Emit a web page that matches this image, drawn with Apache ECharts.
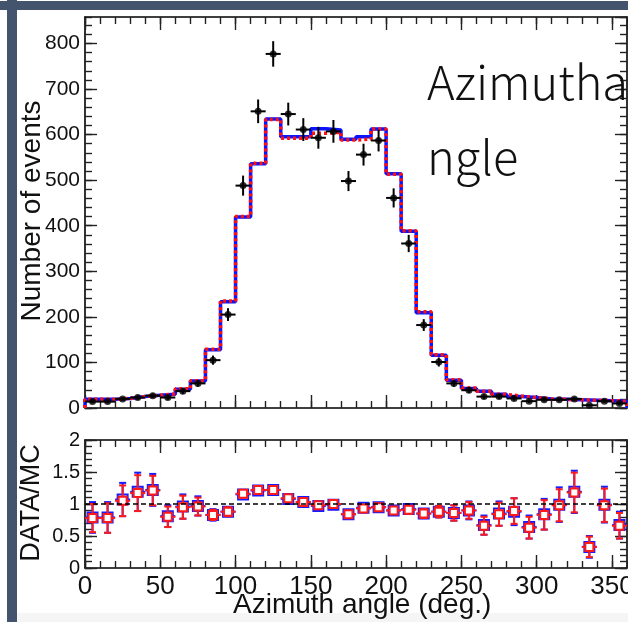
<!DOCTYPE html>
<html>
<head>
<meta charset="utf-8">
<script src="https://cdn.jsdelivr.net/npm/echarts@6/dist/echarts.min.js"></script>
<style>
  html, body { margin: 0; padding: 0; background: #fff; }
  #c { width: 628px; height: 622px; }
</style>
</head>
<body>
<div id="c"></div>
<script>
// Azimuth-angle distribution: data vs. two MC predictions, with DATA/MC ratio panel.
const binCenters = [5, 15, 25, 35, 45, 55, 65, 75, 85, 95, 105, 115, 125, 135, 145, 155, 165, 175,
  185, 195, 205, 215, 225, 235, 245, 255, 265, 275, 285, 295, 305, 315, 325, 335, 345, 355];
const binHalf = 5;

// MC histograms (events per 10 deg bin)
const mcBlue = [19, 19, 21, 25, 28, 30, 41, 59, 128, 233, 419, 536, 634, 595, 595, 613, 610, 590,
  595, 612, 514, 388, 209, 116, 61, 43, 37, 30, 25, 23, 20, 19, 18, 17, 16, 15];
const mcRed = [19, 19, 21, 25, 28, 31, 42, 60, 129, 235, 420, 537, 633, 592, 592, 603, 605, 588,
  590, 612, 513, 389, 211, 117, 62, 44, 37, 30, 26, 23, 20, 19, 18, 17, 16, 15];

// Measured events and their uncertainties
const dataVals = [14, 14, 20, 23, 27, 23, 37, 54, 105, 205, 488, 651, 777, 645, 611, 593, 607, 498,
  556, 587, 461, 361, 182, 101, 54, 39, 25, 25, 21, 15, 18, 18, 20, 6, 15, 10];
const dataErr = [4, 4, 4, 5, 5, 5, 6, 7, 10, 14, 22, 26, 28, 25, 25, 24, 25, 22,
  24, 24, 21, 19, 13, 10, 7, 6, 5, 5, 5, 4, 4, 4, 4, 2, 4, 3];

// DATA/MC ratios
const ratioBlue = [0.79, 0.79, 1.07, 1.19, 1.22, 0.81, 0.96, 0.97, 0.83, 0.88, 1.15, 1.21, 1.22, 1.08,
  1.03, 0.97, 0.99, 0.84, 0.94, 0.95, 0.90, 0.92, 0.85, 0.88, 0.86, 0.90, 0.67, 0.85, 0.88, 0.64,
  0.84, 0.99, 1.19, 0.33, 0.99, 0.67];
const ratioRed = [0.78, 0.78, 1.05, 1.17, 1.21, 0.80, 0.95, 0.96, 0.83, 0.88, 1.16, 1.22, 1.22, 1.09,
  1.03, 0.98, 1.00, 0.84, 0.93, 0.95, 0.90, 0.91, 0.85, 0.88, 0.86, 0.90, 0.66, 0.84, 0.89, 0.63,
  0.83, 0.98, 1.18, 0.33, 0.98, 0.66];
const ratioErrBlue = [0.24, 0.24, 0.26, 0.30, 0.25, 0.17, 0.19, 0.15, 0.09, 0.07, 0.06, 0.05, 0.05, 0.05,
  0.05, 0.05, 0.05, 0.05, 0.05, 0.05, 0.05, 0.06, 0.07, 0.09, 0.12, 0.14, 0.15, 0.19, 0.21, 0.18,
  0.24, 0.27, 0.33, 0.17, 0.28, 0.21];
const ratioErrRed = [0.22, 0.23, 0.24, 0.28, 0.23, 0.16, 0.18, 0.14, 0.08, 0.07, 0.06, 0.05, 0.05, 0.05,
  0.05, 0.05, 0.05, 0.05, 0.05, 0.05, 0.05, 0.06, 0.07, 0.09, 0.12, 0.13, 0.14, 0.18, 0.20, 0.17,
  0.23, 0.25, 0.31, 0.16, 0.26, 0.20];

const xTicksMajor = 50, xTicksMinor = 10;
const yTopMax = 858, yTopMajor = 100, yTopMinor = 20;
const yRatioMax = 2, yRatioMajor = 0.5, yRatioMinor = 0.1;

const FONT = 'Liberation Sans, Arial, Helvetica, sans-serif';
const INK = '#000';

// Step outline of a histogram as a polyline over the bin edges
function stepPath(vals) {
  const pts = [[binCenters[0] - binHalf, 0]];
  vals.forEach((v, i) => {
    pts.push([binCenters[i] - binHalf, v], [binCenters[i] + binHalf, v]);
  });
  pts.push([binCenters[binCenters.length - 1] + binHalf, 0]);
  return pts;
}

function axisBase(gridIndex, extra) {
  return Object.assign({
    gridIndex: gridIndex,
    type: 'value',
    splitLine: { show: false },
    axisLine: { show: false, onZero: false, lineStyle: { color: INK, width: 1.6 } },
    axisTick: { show: true, inside: true, lineStyle: { color: '#222', width: 1.4 } },
    axisLabel: { show: false },
    minorTick: { show: false }
  }, extra);
}

function xAxesFor(gridIndex, withLabels) {
  const label = withLabels
    ? { show: true, showMaxLabel: false, fontSize: 26, fontFamily: FONT, color: '#111', margin: 6 }
    : { show: false };
  return [
    axisBase(gridIndex, { position: 'bottom', min: 0, max: 360, interval: xTicksMajor,
      axisLine: { show: true, onZero: false, lineStyle: { color: INK, width: 1.6 } },
      axisTick: { show: true, inside: true, length: 13, lineStyle: { color: '#222', width: 1.4 } },
      axisLabel: label }),
    axisBase(gridIndex, { position: 'bottom', min: 0, max: 360, interval: xTicksMinor,
      axisTick: { show: true, inside: true, length: 7, lineStyle: { color: '#222', width: 1.4 } } }),
    axisBase(gridIndex, { position: 'top', min: 0, max: 360, interval: xTicksMajor,
      axisLine: { show: true, onZero: false, lineStyle: { color: INK, width: 1.6 } },
      axisTick: { show: true, inside: true, length: 13, lineStyle: { color: '#222', width: 1.4 } } }),
    axisBase(gridIndex, { position: 'top', min: 0, max: 360, interval: xTicksMinor,
      axisTick: { show: true, inside: true, length: 7, lineStyle: { color: '#222', width: 1.4 } } })
  ];
}

function yAxesFor(gridIndex, max, major, minor, labelSize, fmt) {
  return [
    axisBase(gridIndex, { position: 'left', min: 0, max: max, interval: major,
      axisLine: { show: true, onZero: false, lineStyle: { color: INK, width: 1.6 } },
      axisTick: { show: true, inside: true, length: 12, lineStyle: { color: '#222', width: 1.4 } },
      axisLabel: { show: true, showMaxLabel: max % major === 0, fontSize: labelSize, fontFamily: FONT,
        color: '#111', margin: 5, formatter: fmt } }),
    axisBase(gridIndex, { position: 'left', min: 0, max: max, interval: minor,
      axisTick: { show: true, inside: true, length: 7, lineStyle: { color: '#222', width: 1.4 } } }),
    axisBase(gridIndex, { position: 'right', min: 0, max: max, interval: major,
      axisLine: { show: true, onZero: false, lineStyle: { color: INK, width: 1.6 } },
      axisTick: { show: true, inside: true, length: 12, lineStyle: { color: '#222', width: 1.4 } } }),
    axisBase(gridIndex, { position: 'right', min: 0, max: max, interval: minor,
      axisTick: { show: true, inside: true, length: 7, lineStyle: { color: '#222', width: 1.4 } } })
  ];
}

// Data points: black error crosses (bin width horizontally, stat. error vertically)
function dataErrItem(params, api) {
  const x = api.value(0), y = api.value(1), e = api.value(2);
  const l = api.coord([x - binHalf, y]), r = api.coord([x + binHalf, y]);
  const t = api.coord([x, y + e]), b = api.coord([x, y - e]);
  const st = { stroke: '#000', lineWidth: 2 };
  return { type: 'group', children: [
    { type: 'line', shape: { x1: l[0], y1: l[1], x2: r[0], y2: r[1] }, style: st },
    { type: 'line', shape: { x1: t[0], y1: t[1], x2: b[0], y2: b[1] }, style: st }
  ] };
}

// Ratio points: open squares with capped error bars
function ratioItemFactory(color, size, capHalf) {
  return function (params, api) {
    const x = api.value(0), y = api.value(1), e = api.value(2);
    const c = api.coord([x, y]);
    const l = api.coord([x - binHalf, y]), r = api.coord([x + binHalf, y]);
    const t = api.coord([x, y + e]), b = api.coord([x, y - e]);
    const st = { stroke: color, lineWidth: 2 };
    return { type: 'group', children: [
      { type: 'line', shape: { x1: l[0], y1: l[1], x2: r[0], y2: r[1] }, style: st },
      { type: 'line', shape: { x1: t[0], y1: t[1], x2: b[0], y2: b[1] }, style: st },
      { type: 'line', shape: { x1: t[0] - capHalf, y1: t[1], x2: t[0] + capHalf, y2: t[1] }, style: st },
      { type: 'line', shape: { x1: b[0] - capHalf, y1: b[1], x2: b[0] + capHalf, y2: b[1] }, style: st },
      { type: 'rect', shape: { x: c[0] - size / 2, y: c[1] - size / 2, width: size, height: size },
        style: { fill: '#fff', stroke: color, lineWidth: 2 } }
    ] };
  };
}

const grids = [
  { left: 85, top: 17, width: 542, height: 391, outerBoundsMode: 'none', containLabel: false },
  { left: 85, top: 440, width: 542, height: 128, outerBoundsMode: 'none', containLabel: false }
];

const xAxis = [].concat(xAxesFor(0, false), xAxesFor(1, true));
const yAxis = [].concat(
  yAxesFor(0, yTopMax, yTopMajor, yTopMinor, 21),
  yAxesFor(1, yRatioMax, yRatioMajor, yRatioMinor, 20, v => (Math.round(v * 10) / 10).toString())
);

const option = {
  animation: false,
  backgroundColor: '#fff',
  grid: grids,
  xAxis: xAxis,
  yAxis: yAxis,
  series: [
    { type: 'line', xAxisIndex: 0, yAxisIndex: 0, data: stepPath(mcBlue), showSymbol: false,
      lineStyle: { color: '#0a14ff', width: 3.5 }, z: 2 },
    { type: 'line', xAxisIndex: 0, yAxisIndex: 0, data: stepPath(mcRed), showSymbol: false,
      lineStyle: { color: '#ff1010', width: 3.5, type: [3, 3] }, z: 3 },
    { type: 'custom', xAxisIndex: 0, yAxisIndex: 0, renderItem: dataErrItem,
      data: binCenters.map((x, i) => [x, dataVals[i], dataErr[i]]), encode: { x: 0, y: 1 }, z: 4 },
    { type: 'scatter', xAxisIndex: 0, yAxisIndex: 0, symbol: 'circle', symbolSize: 7,
      itemStyle: { color: '#000' }, data: binCenters.map((x, i) => [x, dataVals[i]]), z: 5 },

    { type: 'line', xAxisIndex: 4, yAxisIndex: 4, data: [], showSymbol: false,
      markLine: { silent: true, symbol: ['none', 'none'], label: { show: false },
        lineStyle: { color: '#000', width: 1.5, type: [5, 3] }, data: [{ yAxis: 1 }] }, z: 2 },
    { type: 'custom', xAxisIndex: 4, yAxisIndex: 4, renderItem: ratioItemFactory('#1a1aff', 10, 3.5),
      data: binCenters.map((x, i) => [x, ratioBlue[i], ratioErrBlue[i]]), encode: { x: 0, y: 1 }, z: 3 },
    { type: 'custom', xAxisIndex: 4, yAxisIndex: 4, renderItem: ratioItemFactory('#ff1a1a', 8, 3.5),
      data: binCenters.map((x, i) => [x, ratioRed[i], ratioErrRed[i]]), encode: { x: 0, y: 1 }, z: 4 }
  ],
  graphic: [
    { type: 'rect', shape: { x: 17, y: 613, width: 611, height: 9 }, style: { fill: '#f5f5f5' }, z: 0 },
    { type: 'rect', shape: { x: 0, y: 1, width: 628, height: 9 }, style: { fill: '#44546c' }, z: 100 },
    { type: 'rect', shape: { x: 7, y: 0, width: 10, height: 622 }, style: { fill: '#44546c' }, z: 100 },
    { type: 'text', x: 427, y: 82, z: 50,
      style: { text: 'Azimutha', font: '300 47px "Noto Sans CJK JP", "Noto Sans", sans-serif',
        fill: '#111', align: 'left', verticalAlign: 'middle' } },
    { type: 'text', x: 427, y: 157, z: 50,
      style: { text: 'ngle', font: '300 47px "Noto Sans CJK JP", "Noto Sans", sans-serif',
        fill: '#111', align: 'left', verticalAlign: 'middle' } },
    { type: 'text', x: 32, y: 211, rotation: Math.PI / 2, z: 50,
      style: { text: 'Number of events', font: '28px ' + FONT, fill: '#111',
        align: 'center', verticalAlign: 'middle' } },
    { type: 'text', x: 32, y: 503, rotation: Math.PI / 2, z: 50,
      style: { text: 'DATA/MC', font: '27px ' + FONT, fill: '#111',
        align: 'center', verticalAlign: 'middle' } },
    { type: 'text', x: 233, y: 605, z: 50,
      style: { text: 'Azimuth angle (deg.)', font: '28px ' + FONT, fill: '#111',
        align: 'left', verticalAlign: 'middle' } }
  ]
};

const chart = echarts.init(document.getElementById('c'), null, { renderer: 'canvas' });
chart.setOption(option);
</script>
</body>
</html>
